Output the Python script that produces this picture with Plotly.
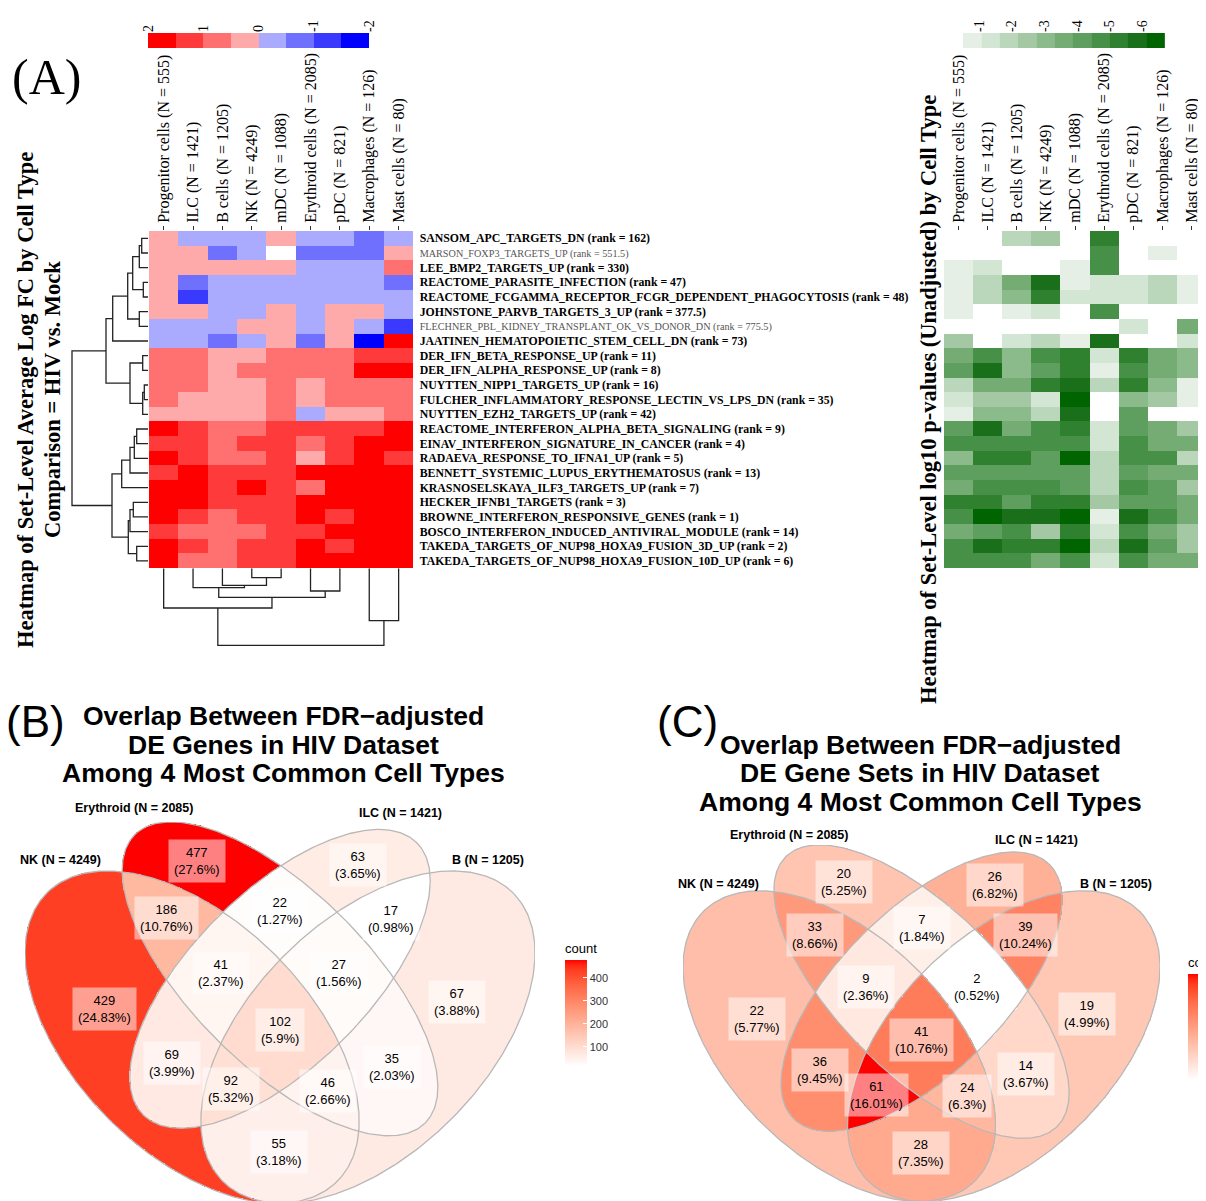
import numpy as np
import plotly.graph_objects as go

# the page body adds an 8px margin, so the figure is drawn 8px in from the top-left
OX, OY = 8, 8
W, H = 1198, 1193
SERIF = "Liberation Serif"
SANS = "Liberation Sans"


def px(x):
    return (x - OX) / W


def py(y):
    return 1 - (y - OY) / H


# ---------------------------------------------------------------- data (A)
cell_types = ["Progenitor cells (N = 555)", "ILC (N = 1421)", "B cells (N = 1205)",
              "NK (N = 4249)", "mDC (N = 1088)", "Erythroid cells (N = 2085)",
              "pDC (N = 821)", "Macrophages (N = 126)", "Mast cells (N = 80)"]

gene_sets = ["SANSOM_APC_TARGETS_DN", "MARSON_FOXP3_TARGETS_UP", "LEE_BMP2_TARGETS_UP",
             "REACTOME_PARASITE_INFECTION",
             "REACTOME_FCGAMMA_RECEPTOR_FCGR_DEPENDENT_PHAGOCYTOSIS",
             "JOHNSTONE_PARVB_TARGETS_3_UP",
             "FLECHNER_PBL_KIDNEY_TRANSPLANT_OK_VS_DONOR_DN",
             "JAATINEN_HEMATOPOIETIC_STEM_CELL_DN", "DER_IFN_BETA_RESPONSE_UP",
             "DER_IFN_ALPHA_RESPONSE_UP", "NUYTTEN_NIPP1_TARGETS_UP",
             "FULCHER_INFLAMMATORY_RESPONSE_LECTIN_VS_LPS_DN", "NUYTTEN_EZH2_TARGETS_UP",
             "REACTOME_INTERFERON_ALPHA_BETA_SIGNALING",
             "EINAV_INTERFERON_SIGNATURE_IN_CANCER", "RADAEVA_RESPONSE_TO_IFNA1_UP",
             "BENNETT_SYSTEMIC_LUPUS_ERYTHEMATOSUS", "KRASNOSELSKAYA_ILF3_TARGETS_UP",
             "HECKER_IFNB1_TARGETS", "BROWNE_INTERFERON_RESPONSIVE_GENES",
             "BOSCO_INTERFERON_INDUCED_ANTIVIRAL_MODULE",
             "TAKEDA_TARGETS_OF_NUP98_HOXA9_FUSION_3D_UP",
             "TAKEDA_TARGETS_OF_NUP98_HOXA9_FUSION_10D_UP"]
gene_set_ranks = ["162", "551.5", "330", "47", "48", "377.5", "775.5", "73", "11", "8",
                  "16", "35", "42", "9", "4", "5", "13", "7", "3", "1", "14", "2", "6"]
gene_set_highlight = [1, 0, 1, 1, 1, 1, 0, 1, 1, 1, 1, 1, 1, 1, 1, 1, 1, 1, 1, 1, 1, 1, 1]

# set-level average log FC (rows = gene sets, columns = cell types)
avg_logfc = [
    [0.25, -0.25, -0.25, -0.25, 0.25, -0.25, -0.25, -0.75, -0.25],
    [0.25, 0.25, -0.75, -0.25, None, -0.75, -0.75, -0.75, 0.25],
    [0.25, 0.25, 0.25, 0.25, 0.25, -0.25, -0.25, -0.25, 0.75],
    [0.25, -0.75, -0.25, -0.25, -0.25, -0.25, -0.25, -0.25, -0.75],
    [0.25, -1.25, -0.25, -0.25, -0.25, -0.25, -0.25, -0.25, -0.25],
    [0.25, 0.25, -0.25, -0.25, 0.25, -0.25, 0.25, 0.25, -0.25],
    [-0.25, -0.25, -0.25, 0.25, 0.25, -0.25, 0.25, -0.25, -1.25],
    [-0.25, -0.25, -0.75, -0.25, 0.25, -0.75, 0.25, -1.75, 1.75],
    [0.75, 0.75, 0.25, 0.25, 0.75, 0.75, 0.75, 1.25, 1.25],
    [0.75, 0.75, 0.25, 0.75, 0.75, 0.75, 0.75, 1.75, 1.75],
    [0.75, 0.75, 0.25, 0.25, 0.75, 0.25, 0.75, 0.75, 0.75],
    [0.75, 0.25, 0.25, 0.25, 0.75, 0.25, 0.75, 0.75, 0.75],
    [0.25, 0.25, 0.25, 0.25, 0.75, -0.25, 0.25, 0.25, 0.75],
    [1.75, 1.25, 0.75, 0.75, 1.25, 1.25, 1.25, 1.25, 1.75],
    [1.25, 1.25, 0.75, 1.25, 1.25, 0.75, 1.25, 1.75, 1.75],
    [1.75, 1.25, 0.75, 0.75, 1.25, 0.25, 1.25, 1.75, 1.25],
    [1.25, 1.75, 1.25, 1.25, 1.25, 1.75, 1.75, 1.75, 1.75],
    [1.75, 1.75, 1.25, 1.75, 1.25, 0.75, 1.75, 1.75, 1.75],
    [1.75, 1.75, 1.25, 1.25, 1.25, 1.75, 1.75, 1.75, 1.75],
    [1.75, 1.25, 0.75, 1.25, 1.25, 1.75, 1.25, 1.75, 1.75],
    [1.25, 0.75, 0.75, 0.75, 1.25, 1.25, 1.75, 1.75, 1.75],
    [1.75, 1.25, 0.75, 1.25, 1.25, 1.75, 1.25, 1.75, 1.75],
    [1.75, 0.75, 0.75, 1.25, 1.25, 1.75, 1.75, 1.75, 1.75],
]

# set-level log10 p-values (unadjusted)
log10_pvals = [
    [None, None, -1.9, -2.5, None, -5.3, None, None, None],
    [None, None, None, None, None, -4.7, None, -0.8, None],
    [-0.8, -1.35, None, None, -0.8, -4.7, None, None, None],
    [-0.8, -1.9, -3.6, -5.85, -0.8, -1.35, -1.35, -1.9, -0.8],
    [-0.8, -1.9, -3.05, -5.3, -1.35, -1.35, -1.35, -1.9, -0.8],
    [-0.8, None, -0.8, -1.35, None, -4.7, None, None, None],
    [None, None, None, None, None, None, -1.35, None, -3.6],
    [-2.5, None, -1.35, -1.9, -0.8, -5.85, None, None, -1.35],
    [-3.6, -4.7, -3.05, -4.7, -5.3, -1.35, -5.3, -3.6, -3.05],
    [-4.15, -5.85, -3.05, -4.15, -5.3, -0.8, -4.7, -3.6, -3.05],
    [-1.9, -3.6, -3.6, -5.3, -5.85, -1.9, -5.3, -3.05, -0.8],
    [-1.35, -2.5, -2.5, -1.35, -6.4, None, -3.05, -2.5, -0.8],
    [-0.8, -3.05, -3.05, -1.9, -5.85, None, -4.15, None, None],
    [-4.15, -5.85, -3.6, -4.7, -5.3, -1.35, -4.15, -3.6, -2.5],
    [-4.7, -4.7, -4.7, -4.7, -4.7, -1.35, -4.7, -3.6, -3.6],
    [-3.05, -5.3, -5.3, -4.15, -6.4, -1.9, -4.7, -4.7, -1.9],
    [-4.15, -4.15, -4.15, -4.15, -4.15, -1.9, -4.15, -3.6, -3.6],
    [-3.6, -4.7, -4.7, -4.7, -4.15, -1.9, -4.7, -4.15, -2.5],
    [-5.3, -5.3, -4.15, -5.3, -5.3, -2.5, -4.15, -4.15, -3.6],
    [-4.7, -6.4, -5.85, -5.85, -6.4, -0.8, -5.85, -4.7, -3.6],
    [-3.6, -4.15, -4.7, -2.5, -5.3, -1.35, -4.7, -3.6, -2.5],
    [-4.7, -5.85, -5.3, -5.3, -6.4, -1.9, -5.85, -4.15, -2.5],
    [-4.7, -4.7, -4.7, -3.6, -4.7, -1.35, -4.7, -3.6, -3.6],
]

# hierarchical clustering: (child, child, height); leaves 0..n-1, merge k -> node n+k
row_dendro_merges = [
    (0, 1, 6.3), (23, 2, 8.7), (3, 4, 4.7), (24, 25, 15.3), (5, 6, 8.7),
    (26, 27, 20.3), (28, 7, 35.3), (8, 9, 5.3), (10, 11, 3.7), (31, 12, 5.3),
    (30, 32, 18.0), (29, 33, 42.0), (13, 14, 11.3), (35, 15, 13.7), (36, 16, 18.0),
    (37, 17, 26.3), (18, 19, 14.7), (39, 20, 18.0), (21, 22, 11.3), (40, 41, 19.7),
    (38, 42, 36.0), (34, 43, 76.0),
]
col_dendro_merges = [
    (3, 4, 9.3), (2, 9, 17.0), (1, 10, 19.3), (5, 6, 22.7), (11, 12, 29.0),
    (0, 13, 39.7), (7, 8, 52.3), (14, 15, 77.0),
]

# legend keys
lfc_key_bins = [1.75, 1.25, 0.75, 0.25, -0.25, -0.75, -1.25, -1.75]
lfc_key_ticks = [2, 1, 0, -1, -2]
pval_key_bins = [-0.78, -1.35, -1.91, -2.47, -3.04, -3.6, -4.16, -4.73, -5.29, -5.85, -6.42]
pval_key_ticks = [-1, -2, -3, -4, -5, -6]

# ---------------------------------------------------------------- data (B, C)
venn_sets = ["NK (N = 4249)", "Erythroid (N = 2085)", "ILC (N = 1421)", "B (N = 1205)"]
venn_regions = ["1000", "0100", "0010", "0001", "1100", "1010", "1001", "0110",
                "0101", "0011", "1110", "1101", "1011", "0111", "1111"]
de_gene_counts = [429, 477, 63, 67, 186, 69, 55, 22, 35, 17, 41, 46, 92, 27, 102]
de_geneset_counts = [22, 20, 26, 19, 33, 36, 28, 7, 14, 39, 9, 24, 61, 2, 41]
de_gene_legend_ticks = [100, 200, 300, 400]
de_geneset_legend_ticks = [10, 20, 30, 40, 50, 60]

# ---------------------------------------------------------------- styles
lfc_colors = ["#0000FF", "#3A3AFF", "#7070FF", "#AAAAFF", "#FFAAAA", "#FF7070", "#FF3A3A", "#FF0000"]
green_colors = ["#006400", "#1A6F1A", "#2F802F", "#479047", "#5E9E5E", "#74AC74",
                "#8BBA8B", "#A3C8A3", "#BBD7BB", "#D3E5D3", "#E5EFE5"]


def step_scale(colors):
    n = len(colors)
    sc = []
    for i, c in enumerate(colors):
        sc.append([i / n, c])
        sc.append([(i + 1) / n, c])
    return sc


def _lin(c):
    c = c / 255.0
    return c / 12.92 if c <= 0.04045 else ((c + 0.055) / 1.055) ** 2.4


def _gam(c):
    c = 12.92 * c if c <= 0.0031308 else 1.055 * c ** (1 / 2.4) - 0.055
    return int(round(min(max(c, 0), 1) * 255))


WN = (0.95047, 1.0, 1.08883)


def rgb2lab(rgb):
    r, g, b = [_lin(v) for v in rgb]
    X = 0.4124 * r + 0.3576 * g + 0.1805 * b
    Y = 0.2126 * r + 0.7152 * g + 0.0722 * b
    Z = 0.0193 * r + 0.1192 * g + 0.9505 * b
    f = lambda t: t ** (1 / 3) if t > 0.008856 else 7.787 * t + 16 / 116
    fx, fy, fz = f(X / WN[0]), f(Y / WN[1]), f(Z / WN[2])
    return 116 * fy - 16, 500 * (fx - fy), 200 * (fy - fz)


def lab2rgb(L, a, b):
    fy = (L + 16) / 116
    fx = fy + a / 500
    fz = fy - b / 200
    finv = lambda t: t ** 3 if t ** 3 > 0.008856 else (t - 16 / 116) / 7.787
    X, Y, Z = WN[0] * finv(fx), WN[1] * finv(fy), WN[2] * finv(fz)
    r = 3.2406 * X - 1.5372 * Y - 0.4986 * Z
    g = -0.9689 * X + 1.8758 * Y + 0.0415 * Z
    bb = 0.0557 * X - 0.2040 * Y + 1.0570 * Z
    return "rgb(%d,%d,%d)" % (_gam(r), _gam(g), _gam(bb))


lo, hi = rgb2lab((255, 255, 255)), rgb2lab((255, 0, 0))
venn_scale = []
for i in range(21):
    t = i / 20
    venn_scale.append([t, lab2rgb(*[lo[k] + t * (hi[k] - lo[k]) for k in range(3)])])

# ---------------------------------------------------------------- figure
fig = go.Figure()

fig.add_trace(go.Heatmap(z=avg_logfc, x=list(range(9)), y=list(range(23)),
                         colorscale=step_scale(lfc_colors), zmin=-2, zmax=2,
                         showscale=False, hoverinfo="skip", xaxis="x", yaxis="y"))
fig.add_trace(go.Heatmap(z=log10_pvals, x=list(range(9)), y=list(range(23)),
                         colorscale=step_scale(green_colors), zmin=-6.7, zmax=-0.5,
                         showscale=False, hoverinfo="skip", xaxis="x2", yaxis="y2"))


def dendro(n, merges):
    pos = {i: float(i) for i in range(n)}
    hgt = {i: 0.0 for i in range(n)}
    ps, hs = [], []
    for k, (a, b, h) in enumerate(merges):
        ps += [pos[a], pos[a], pos[b], pos[b], None]
        hs += [hgt[a], h, h, hgt[b], None]
        pos[n + k] = (pos[a] + pos[b]) / 2
        hgt[n + k] = h
    return ps, hs


rp, rh = dendro(23, row_dendro_merges)
fig.add_trace(go.Scatter(x=rh, y=rp, mode="lines", line=dict(color="#222222", width=1.3),
                         hoverinfo="skip", xaxis="x3", yaxis="y"))
cp, ch = dendro(9, col_dendro_merges)
fig.add_trace(go.Scatter(x=cp, y=ch, mode="lines", line=dict(color="#222222", width=1.3),
                         hoverinfo="skip", xaxis="x", yaxis="y4"))

fig.add_trace(go.Heatmap(z=[lfc_key_bins], x=lfc_key_bins, y=[0],
                         colorscale=step_scale(lfc_colors), zmin=-2, zmax=2,
                         showscale=False, hoverinfo="skip", xaxis="x5", yaxis="y5"))
fig.add_trace(go.Heatmap(z=[pval_key_bins], x=pval_key_bins, y=[0],
                         colorscale=step_scale(green_colors), zmin=-6.7, zmax=-0.5,
                         showscale=False, hoverinfo="skip", xaxis="x6", yaxis="y6"))

# Venn diagrams ----------------------------------------------------------
ELL = [(0.35, 0.47, 0.35, 0.20, 135), (0.50, 0.57, 0.35, 0.15, 135),
       (0.50, 0.57, 0.33, 0.15, 45), (0.65, 0.47, 0.35, 0.20, 45)]
STEP = 0.002
gx = np.arange(0.06, 0.94 + STEP / 2, STEP)
gy = np.arange(0.18, 0.845 + STEP / 2, STEP)
GX, GY = np.meshgrid(gx, gy)


def inside(cx, cy, a, b, rot):
    t = np.deg2rad(rot)
    dx, dy = GX - cx, GY - cy
    u = dx * np.cos(t) + dy * np.sin(t)
    v = -dx * np.sin(t) + dy * np.cos(t)
    return (u / a) ** 2 + (v / b) ** 2 <= 1


masks = [inside(*e) for e in ELL]
code = (masks[0].astype(int) * 1000 + masks[1].astype(int) * 100 +
        masks[2].astype(int) * 10 + masks[3].astype(int))


def region_mask(key):
    return code == int(key)


def outline(cx, cy, a, b, rot):
    s = np.linspace(0, 2 * np.pi, 400)
    r = np.deg2rad(rot)
    x = cx + a * np.cos(s) * np.cos(r) - b * np.sin(s) * np.sin(r)
    y = cy + a * np.cos(s) * np.sin(r) + b * np.sin(s) * np.cos(r)
    return x, y


annotations = []


def ann(x, y, text, size, family=SANS, angle=0, **kw):
    d = dict(x=px(x), y=py(y), xref="paper", yref="paper", text=text, showarrow=False,
             xanchor="center", yanchor="middle", textangle=angle,
             font=dict(family=family, size=size, color="black"))
    d.update(kw)
    annotations.append(d)


def venn(counts, xa, ya, cb):
    lookup = dict(zip(venn_regions, counts))
    z = np.full(GX.shape, np.nan)
    for k, c in lookup.items():
        z[region_mask(k)] = c
    zl = [[None if np.isnan(v) else float(v) for v in row] for row in z]
    fig.add_trace(go.Heatmap(z=zl, x=gx, y=gy, colorscale=venn_scale,
                             zmin=min(counts), zmax=max(counts), hoverinfo="skip",
                             showscale=True, colorbar=cb, xaxis=xa, yaxis=ya))
    for e in ELL:
        ex, ey = outline(*e)
        fig.add_trace(go.Scatter(x=ex, y=ey, mode="lines", hoverinfo="skip",
                                 line=dict(color="#B8B8B8", width=1.3), xaxis=xa, yaxis=ya))
    total = sum(counts)
    for k, c in lookup.items():
        m = region_mask(k)
        cxm, cym = GX[m].mean(), GY[m].mean()
        pct = f"{round(100 * c / total, 2):g}"
        annotations.append(dict(x=cxm, y=cym, xref=xa, yref=ya, text=f"{c}<br>({pct}%)",
                                showarrow=False, xanchor="center", yanchor="middle",
                                font=dict(family=SANS, size=13, color="black"),
                                bgcolor="rgba(255,255,255,0.5)", borderpad=5))


cb_common = dict(thickness=22, thicknessmode="pixels", lenmode="pixels",
                 xanchor="left", yanchor="bottom", xpad=0, ypad=0, outlinewidth=0,
                 ticks="inside", ticklen=4, tickcolor="white",
                 tickfont=dict(family=SANS, size=11, color="#333"),
                 title=dict(text="count", side="top", font=dict(family=SANS, size=13, color="black")))
venn(de_gene_counts, "x7", "y7",
     dict(cb_common, x=px(565), y=py(1066), len=126, tickvals=de_gene_legend_ticks))
venn(de_geneset_counts, "x8", "y8",
     dict(cb_common, x=px(1188), y=py(1080), len=126, tickvals=de_geneset_legend_ticks))

set_label_px = {
    "B": [(60, 860), (134, 808), (400, 813), (488, 860)],
    "C": [(718, 884), (789, 835), (1036, 840), (1116, 884)],
}
for panel in ("B", "C"):
    for name, (xx, yy) in zip(venn_sets, set_label_px[panel]):
        ann(xx, yy, f"<b>{name}</b>", 12.5)

for xc, ys, mid in ((283, (716, 745, 773), "DE Genes in HIV Dataset"),
                    (920, (745, 773, 802), "DE Gene Sets in HIV Dataset")):
    for txt, yy in zip(["Overlap Between FDR\u2212adjusted", mid, "Among 4 Most Common Cell Types"], ys):
        ann(xc, yy, f"<b>{txt}</b>", 26.5)
ann(35, 721, "(B)", 44)
ann(687, 721, "(C)", 44)
ann(46, 77, "(A)", 50, family=SERIF)
ann(25, 400, "<b>Heatmap of Set-Level Average Log FC by Cell Type</b>", 22.5, family=SERIF, angle=-90)
ann(52, 400, "<b>Comparison = HIV vs. Mock</b>", 22.5, family=SERIF, angle=-90)
ann(928, 400, "<b>Heatmap of Set-Level log10 p-values (Unadjusted) by Cell Type</b>", 22.5,
    family=SERIF, angle=-90)

row_labels = []
for name, rk, hl in zip(gene_sets, gene_set_ranks, gene_set_highlight):
    if hl:
        row_labels.append(f"<b>{name} (rank = {rk})</b>")
    else:
        row_labels.append(f"<span style='color:#555555;font-size:10.2px'>{name} (rank = {rk})</span>")

hidden = dict(visible=False, showgrid=False, zeroline=False, fixedrange=True)
col_axis = dict(range=[-0.5, 8.5], side="top", tickmode="array", tickvals=list(range(9)),
                ticktext=cell_types, tickangle=-90, ticks="outside", ticklen=4,
                tickcolor="#333", tickfont=dict(family=SERIF, size=16, color="black"),
                showgrid=False, zeroline=False, showline=False, fixedrange=True)
key_axis = dict(side="top", tickmode="array", tickangle=-90, ticks="",
                tickfont=dict(family=SERIF, size=14, color="black"),
                showgrid=False, zeroline=False, showline=False, fixedrange=True)

fig.update_layout(
    width=W, height=H, margin=dict(l=0, r=0, t=0, b=0, autoexpand=False),
    paper_bgcolor="white", plot_bgcolor="white", showlegend=False, hovermode=False,
    xaxis=dict(col_axis, domain=[px(149), px(413.3)], anchor="y"),
    yaxis=dict(domain=[py(568.3), py(231)], range=[22.5, -0.5], side="right",
               tickmode="array", tickvals=list(range(23)), ticktext=row_labels, ticks="outside",
               ticklen=3, tickcolor="rgba(0,0,0,0)",
               tickfont=dict(family=SERIF, size=11.8, color="black"), showgrid=False,
               zeroline=False, anchor="x", fixedrange=True),
    xaxis2=dict(col_axis, domain=[px(944), 1.0], anchor="y2"),
    yaxis2=dict(hidden, domain=[py(568.3), py(231)], range=[22.5, -0.5], anchor="x2"),
    xaxis3=dict(hidden, domain=[px(70), px(148)], range=[78, 0], anchor="y"),
    yaxis4=dict(hidden, domain=[py(650), py(568.3)], range=[81.7, 0], anchor="x"),
    xaxis5=dict(key_axis, domain=[px(148), px(369)], range=[2, -2], anchor="y5",
                tickvals=lfc_key_ticks, ticktext=[str(v) for v in lfc_key_ticks]),
    yaxis5=dict(hidden, domain=[py(48), py(33)], range=[-0.5, 0.5], anchor="x5"),
    xaxis6=dict(key_axis, domain=[px(963), px(1165)], range=[-0.5, -6.7], anchor="y6",
                tickvals=pval_key_ticks, ticktext=[str(v) for v in pval_key_ticks]),
    yaxis6=dict(hidden, domain=[py(48), py(33)], range=[-0.5, 0.5], anchor="x6"),
    xaxis7=dict(hidden, domain=[px(25), px(535)], range=[0.065, 0.935], anchor="y7"),
    yaxis7=dict(hidden, domain=[0.0, py(822)],
                range=[0.839 - (H + OY - 822) / 583.0, 0.839], anchor="x7"),
    xaxis8=dict(hidden, domain=[px(683), px(1160)], range=[0.065, 0.935], anchor="y8"),
    yaxis8=dict(hidden, domain=[0.0, py(845)],
                range=[0.839 - (H + OY - 845) / 545.0, 0.839], anchor="x8"),
    annotations=annotations,
)

fig.write_html("out.html")
